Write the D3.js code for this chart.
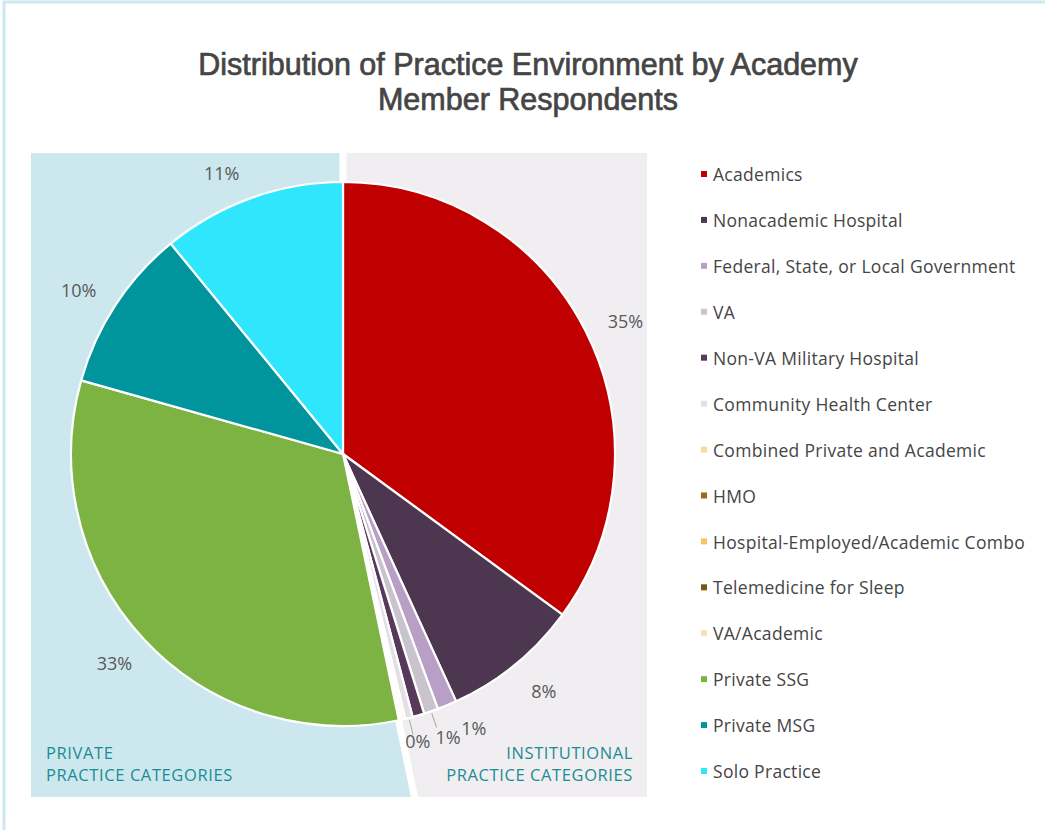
<!DOCTYPE html>
<html>
<head>
<meta charset="utf-8">
<script src="https://cdn.jsdelivr.net/npm/d3@7"></script>
<style>
  body { margin: 0; background: #fff; }
  svg { display: block; }
</style>
</head>
<body>
<div id="chart"></div>
<script>
// Chart data
const categories = [
  "Academics", "Nonacademic Hospital", "Federal, State, or Local Government", "VA",
  "Non-VA Military Hospital", "Community Health Center", "Combined Private and Academic",
  "HMO", "Hospital-Employed/Academic Combo", "Telemedicine for Sleep", "VA/Academic",
  "Private SSG", "Private MSG", "Solo Practice"
];
const shares = [35.0, 8.1, 1.15, 0.85, 0.7, 0.45, 0.15, 0.05, 0.05, 0.03, 0.1, 32.6, 9.7, 10.9];
const shownLabels = [true, true, true, true, false, true, false, false, false, false, false, true, true, true];
const colors = [
  "#c00000", "#4d3650", "#b89fc6", "#c9c3cd", "#573a59", "#e3dfe5", "#f5dc9e",
  "#9c6c0c", "#f2c462", "#7a5a10", "#f7e2b5", "#7cb342", "#00959d", "#30e6fc"
];
const institutionalCount = 11; // first 11 categories are institutional
const titleLines = ["Distribution of Practice Environment by Academy", "Member Respondents"];
const groupLabels = [["PRIVATE", "PRACTICE CATEGORIES"], ["INSTITUTIONAL", "PRACTICE CATEGORIES"]];

const width = 1045;
const height = 830;
const cx = 343, cy = 454, radius = 272;

const svg = d3.select("#chart").append("svg")
  .attr("width", width)
  .attr("height", height);

// outer frame (only top and left edges are visible in the crop)
svg.append("rect")
  .attr("x", 4).attr("y", 2)
  .attr("width", width + 20).attr("height", height + 20)
  .attr("fill", "none")
  .attr("stroke", "#cde8ee")
  .attr("stroke-width", 3);

// Title
svg.append("g").selectAll("text")
  .data(titleLines)
  .enter()
  .append("text")
  .attr("x", 528)
  .attr("y", (d, i) => 75 + i * 35)
  .attr("text-anchor", "middle")
  .attr("font-family", "'Liberation Sans Narrow', 'Arial Narrow', sans-serif")
  .attr("font-size", 30.5)
  .attr("fill", "#454545")
  .attr("stroke", "#454545")
  .attr("stroke-width", 0.7)
  .text(d => d);

// Pie layout, starting at 12 o'clock going clockwise
const pie = d3.pie().sort(null).value(d => d);
const arcs = pie(shares);
const arc = d3.arc().innerRadius(0).outerRadius(radius);

// boundary between institutional and private groups
const splitAngle = arcs[institutionalCount - 1].endAngle;
const panelTop = 153, panelBottom = 797, panelLeft = 31, panelRight = 647;
const splitBottomX = cx + Math.tan(Math.PI - splitAngle) * (panelBottom - cy);

// Institutional panel (gray)
svg.append("rect")
  .attr("x", cx).attr("y", panelTop)
  .attr("width", panelRight - cx).attr("height", panelBottom - panelTop)
  .attr("fill", "#f0eef1");

// Private panel (light blue)
svg.append("path")
  .attr("d", d3.line()([
    [panelLeft, panelTop], [cx, panelTop], [cx, cy],
    [splitBottomX, panelBottom], [panelLeft, panelBottom]
  ]) + "Z")
  .attr("fill", "#cce8ee");

// divider between the panels
svg.append("path")
  .attr("d", d3.line()([[cx, panelTop - 2], [cx, cy], [splitBottomX, panelBottom + 2]]))
  .attr("fill", "none")
  .attr("stroke", "#fff")
  .attr("stroke-width", 7);

const g = svg.append("g").attr("transform", `translate(${cx},${cy})`);

g.selectAll("path.slice")
  .data(arcs)
  .enter()
  .append("path")
  .attr("class", "slice")
  .attr("d", arc)
  .attr("fill", (d, i) => colors[i])
  .attr("stroke", "#fff")
  .attr("stroke-width", 2.2)
  .attr("stroke-linejoin", "round");

// Percentage labels
const labelArc = d3.arc().innerRadius(310).outerRadius(310);
const smallArc = d3.arc().innerRadius(300).outerRadius(300);
const labelData = arcs.map((d, i) => ({ d, i })).filter(o => shownLabels[o.i]);
// small shifts so labels sit where the original placed them
const nudges = {
  0: [6, 8], 1: [5, -3], 2: [16, -2], 3: [8, 0], 5: [2, -3],
  11: [-2, -2], 12: [-5, 6], 13: [-17, 12]
};

const fmt = v => Math.round(v) + "%";

g.selectAll("text.pct")
  .data(labelData)
  .enter()
  .append("text")
  .attr("class", "pct")
  .attr("transform", o => {
    const small = shares[o.i] < 2;
    let [x, y] = (small ? smallArc : labelArc).centroid(o.d);
    const n = nudges[o.i] || [0, 0];
    return `translate(${x + n[0]},${y + n[1]})`;
  })
  .attr("text-anchor", "middle")
  .attr("dy", "0.35em")
  .attr("font-family", "'Open Sans', sans-serif")
  .attr("font-size", 18)
  .attr("fill", "#595959")
  .text(o => fmt(shares[o.i]));

// leader lines for the crowded small slices
const leaderIn = d3.arc().innerRadius(274).outerRadius(274);
const leaderOut = d3.arc().innerRadius(289).outerRadius(289);
g.selectAll("line.leader")
  .data(labelData.filter(o => shares[o.i] < 2 && o.i !== 2))
  .enter()
  .append("line")
  .attr("class", "leader")
  .attr("x1", o => leaderIn.centroid(o.d)[0])
  .attr("y1", o => leaderIn.centroid(o.d)[1])
  .attr("x2", o => leaderOut.centroid(o.d)[0])
  .attr("y2", o => leaderOut.centroid(o.d)[1])
  .attr("stroke", "#a6a6a6")
  .attr("stroke-width", 1);

// Group labels
const groupText = svg.append("g")
  .attr("font-family", "'Open Sans', sans-serif")
  .attr("font-size", 16.5)
  .attr("letter-spacing", 0.6)
  .attr("fill", "#1b8c94");

groupText.selectAll("text.private")
  .data(groupLabels[0])
  .enter()
  .append("text")
  .attr("x", 46)
  .attr("y", (d, i) => 759 + i * 22)
  .text(d => d);

groupText.selectAll("text.inst")
  .data(groupLabels[1])
  .enter()
  .append("text")
  .attr("x", 633)
  .attr("y", (d, i) => 759 + i * 22)
  .attr("text-anchor", "end")
  .text(d => d);

// Legend
const legendY = d3.scalePoint().domain(categories).range([175, 772]);
const legend = svg.append("g")
  .attr("font-family", "'Open Sans', sans-serif")
  .attr("font-size", 17.5)
  .attr("letter-spacing", 0.3)
  .attr("fill", "#454545");

const item = legend.selectAll("g.item")
  .data(categories)
  .enter()
  .append("g")
  .attr("class", "item")
  .attr("transform", d => `translate(701,${legendY(d)})`);

item.append("rect")
  .attr("x", 0).attr("y", -4)
  .attr("width", 6).attr("height", 6)
  .attr("fill", (d, i) => colors[i]);

item.append("text")
  .attr("x", 12)
  .attr("dy", "0.35em")
  .text(d => d);
</script>
</body>
</html>
